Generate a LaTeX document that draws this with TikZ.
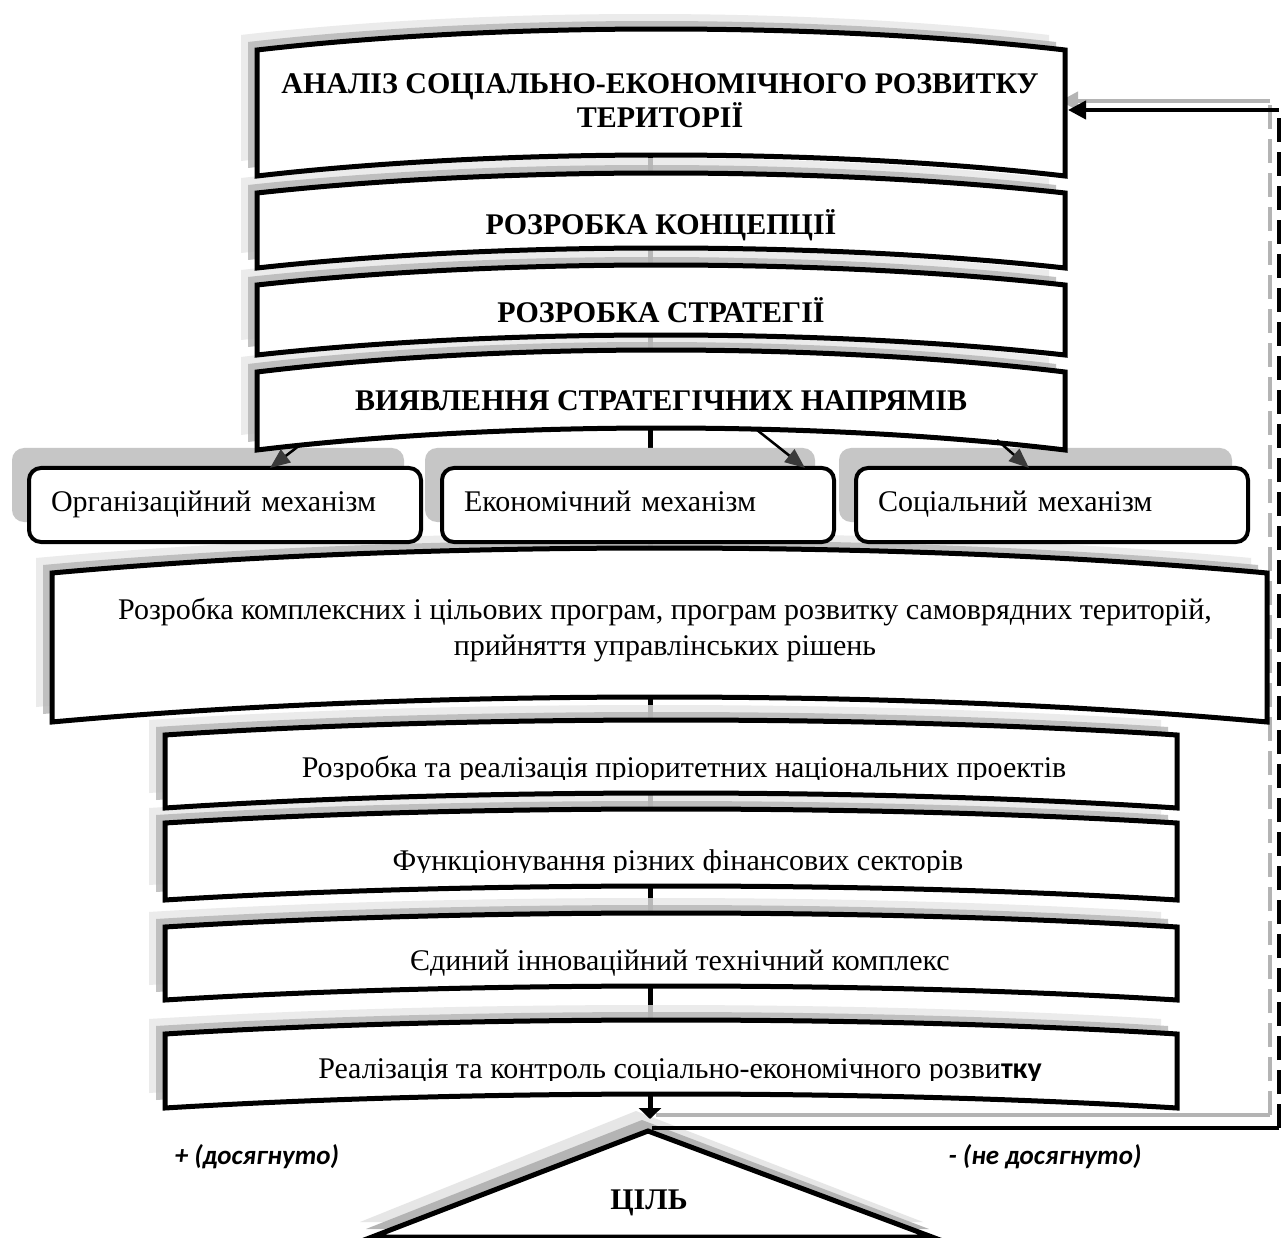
\documentclass[tikz,border=0pt]{standalone}
\usepackage{fontspec}
\setmainfont{Liberation Serif}
\newfontfamily\lblfont{Carlito}
\usetikzlibrary{arrows.meta}
\definecolor{shdark}{HTML}{B4B4B4}
\definecolor{shlight}{HTML}{E6E6E6}
\definecolor{mshadow}{HTML}{C6C6C6}
\definecolor{tipgray}{HTML}{3A3A3A}
\newcommand{\bpath}[6]{\path[#1] (#2,#4) .. controls ({#2+0.3*(#3-#2)},{#4-1.333*#6}) and ({#3-0.3*(#3-#2)},{#4-1.333*#6}) .. (#3,#4) -- (#3,#5) .. controls ({#3-0.3*(#3-#2)},{#5-1.333*#6}) and ({#2+0.3*(#3-#2)},{#5-1.333*#6}) .. (#2,#5) -- cycle;}
\newcommand{\bshadow}[5]{%
 \begin{scope}[shift={(-16,-15)}]\bpath{fill=shlight,fill opacity=0.8}{#1}{#2}{#3}{#4}{#5}\end{scope}%
 \begin{scope}[shift={(-9,-8)}]\bpath{fill=shdark,fill opacity=0.8}{#1}{#2}{#3}{#4}{#5}\end{scope}}
\newcommand{\bbox}[5]{\bpath{fill=white,draw=black,line width=5pt,line join=miter}{#1}{#2}{#3}{#4}{#5}}
\tikzset{
 hdr/.style={font=\fontsize{30}{34}\selectfont\bfseries, align=center, inner sep=0pt},
 bodyc/.style={font=\fontsize{30}{36}\selectfont, align=center, inner sep=0pt},
 body/.style={font=\fontsize{30}{34}\selectfont, inner sep=0pt},
 mech/.style={draw=black, line width=4pt, rounded corners=12pt, fill=white,
   text width=348pt, inner xsep=22pt, inner ysep=0pt, minimum height=74pt, align=left,
   text height=20pt, text depth=7pt,
   font=\fontsize{30}{34}\selectfont, anchor=north west},
 conn/.style={line width=5pt, black},
 mecharrow/.style={line width=2.5pt, black, -{Triangle[length=20pt,width=16pt,color=tipgray]}},
 fb/.style={line width=4pt, black},
 fbdash/.style={line width=4pt, black, dash pattern=on 24pt off 10pt},
 lbl/.style={font=\lblfont\fontsize{27}{32}\selectfont\bfseries\itshape, inner sep=0pt}
}
\begin{document}
\begin{tikzpicture}[x=1pt,y=-1pt]
\useasboundingbox (0,0) rectangle (1283,1238);
\fill[white] (0,0) rectangle (1283,1238);
% connector end points
\coordinate (c1s) at (650,155);  \coordinate (c2n) at (650,173);
\coordinate (c2s) at (650,248);  \coordinate (c3n) at (650,265);
\coordinate (c3s) at (650,335);  \coordinate (c4n) at (650,350);
\coordinate (c4s) at (650,428);  \coordinate (c5n) at (650,548);
\coordinate (c5s) at (650,697);  \coordinate (c6n) at (650,720);
\coordinate (c6s) at (650,793);  \coordinate (c7n) at (650,809);
\coordinate (c7s) at (650,886);  \coordinate (c8n) at (650,913);
\coordinate (c8s) at (650,986);  \coordinate (c9n) at (650,1020);
\coordinate (c9s) at (650,1094); \coordinate (c9t) at (650,1119);
\coordinate (apex) at (648,1131);
\coordinate (fbL) at (652,1128); \coordinate (fbR) at (1279,1128);
\coordinate (fbT) at (1279,110);  \coordinate (t1in) at (1068,110);
% connectors under shadows
\draw[conn] (c1s) -- (c2n);
\draw[conn] (c2s) -- (c3n);
\draw[conn] (c3s) -- (c4n);
\draw[conn] (c4s) -- (c5n);
\draw[conn] (c5s) -- (c6n);
\draw[conn] (c6s) -- (c7n);
\draw[conn] (c7s) -- (c8n);
\draw[conn] (c8s) -- (c9n);
% feedback shadow
\draw[shdark, line width=4pt] (656,1115) -- (1270,1115);
\draw[shdark, line width=4pt, dash pattern=on 24pt off 10pt] (1270,1115) -- (1270,101);
\draw[shdark, line width=4pt, -{Triangle[length=18pt,width=18pt]}] (1270,101) -- (1060,101);
% banner shadows
\bshadow{257}{1065}{50}{176}{21}
\bshadow{257}{1065}{193}{268}{20}
\bshadow{257}{1065}{285}{355}{20}
\bshadow{257}{1065}{372}{450}{22}
\bshadow{52}{1267}{573}{722}{25}
\bshadow{165}{1177}{735}{808}{15}
\bshadow{165}{1177}{823}{900}{14}
\bshadow{165}{1177}{927}{1000}{14}
\bshadow{165}{1177}{1034}{1108}{14}
% mechanism shadows
\fill[mshadow, rounded corners=12pt] (12,448) rectangle (404,522);
\fill[mshadow, rounded corners=12pt] (425,448) rectangle (815,522);
\fill[mshadow, rounded corners=12pt] (839,448) rectangle (1232,522);
% triangle shadows
\fill[shlight] (636,1111) -- (923,1222) -- (360,1222) -- cycle;
\fill[shdark] (642,1120) -- (929,1229) -- (366,1229) -- cycle;
% banners
\bbox{257}{1065}{50}{176}{21}
\bbox{257}{1065}{193}{268}{20}
\bbox{257}{1065}{285}{355}{20}
\bbox{257}{1065}{372}{450}{22}
\bbox{52}{1267}{573}{722}{25}
\bbox{165}{1177}{735}{808}{15}
\bbox{165}{1177}{823}{900}{14}
\bbox{165}{1177}{927}{1000}{14}
\bbox{165}{1177}{1034}{1108}{14}
% texts of banners
\node[hdr] (t1) at (660,101) {АНАЛІЗ СОЦІАЛЬНО-ЕКОНОМІЧНОГО РОЗВИТКУ\\ТЕРИТОРІЇ};
\node[hdr] (t2) at (661,225) {РОЗРОБКА КОНЦЕПЦІЇ};
\node[hdr] (t3) at (661,310) {РОЗРОБКА СТРАТЕГІЇ};
\node[hdr] (t4) at (661,401) {ВИЯВЛЕННЯ СТРАТЕГІЧНИХ НАПРЯМІВ};
\node[bodyc] (t5) at (665,630) {Розробка комплексних і цільових програм, програм розвитку самоврядних територій,\\прийняття управлінських рішень};
\begin{scope}
\clip (165,700) rectangle (1177,779);
\node[body, anchor=base] (t6) at (684,777) {Розробка та реалізація пріоритетних національних проектів};
\end{scope}
\begin{scope}
\clip (165,800) rectangle (1177,872);
\node[body, anchor=base] (t7) at (678,870) {Функціонування різних фінансових секторів};
\end{scope}
\node[body, anchor=base] (t8) at (680,970) {Єдиний інноваційний технічний комплекс};
\begin{scope}
\clip (165,1000) rectangle (1177,1080);
\node[body, anchor=base] (t9) at (680,1078) {Реалізація та контроль соціально-економічного розви{\lblfont\bfseries тку}};
\end{scope}
% mechanisms
\node[mech] (mA) at (27,466) {Організаційний механізм};
\node[mech] (mB) at (440,466) {Економічний механізм};
\node[mech] (mC) at (854,466) {Соціальний механізм};
\coordinate (d1) at (300,445); \coordinate (mAin) at (270,468);
\coordinate (d2) at (757,430); \coordinate (mBin) at (805,468);
\coordinate (d3) at (997,440); \coordinate (mCin) at (1029,468);
\draw[mecharrow] (d1) -- (mAin);
\draw[mecharrow] (d2) -- (mBin);
\draw[mecharrow] (d3) -- (mCin);
% goal triangle
\filldraw[fill=white, draw=black, line width=5pt, line join=miter] (apex) -- (932,1237) -- (372,1237) -- cycle;
\node[hdr] (goal) at (649,1203) {ЦІЛЬ};
% last arrow
\draw[line width=5pt, black, -{Triangle[length=11pt,width=22pt]}] (c9s) -- (c9t);
% feedback
\draw[fb] (fbL) -- (fbR);
\draw[fbdash] (fbR) -- (fbT);
\draw[fb, -{Triangle[length=18pt,width=18pt]}] (fbT) -- (t1in);
% labels
\node[lbl] (plus) at (257,1157) {+ (досягнуто)};
\node[lbl] (minus) at (1045,1157) {- (не досягнуто)};
\end{tikzpicture}
\end{document}
